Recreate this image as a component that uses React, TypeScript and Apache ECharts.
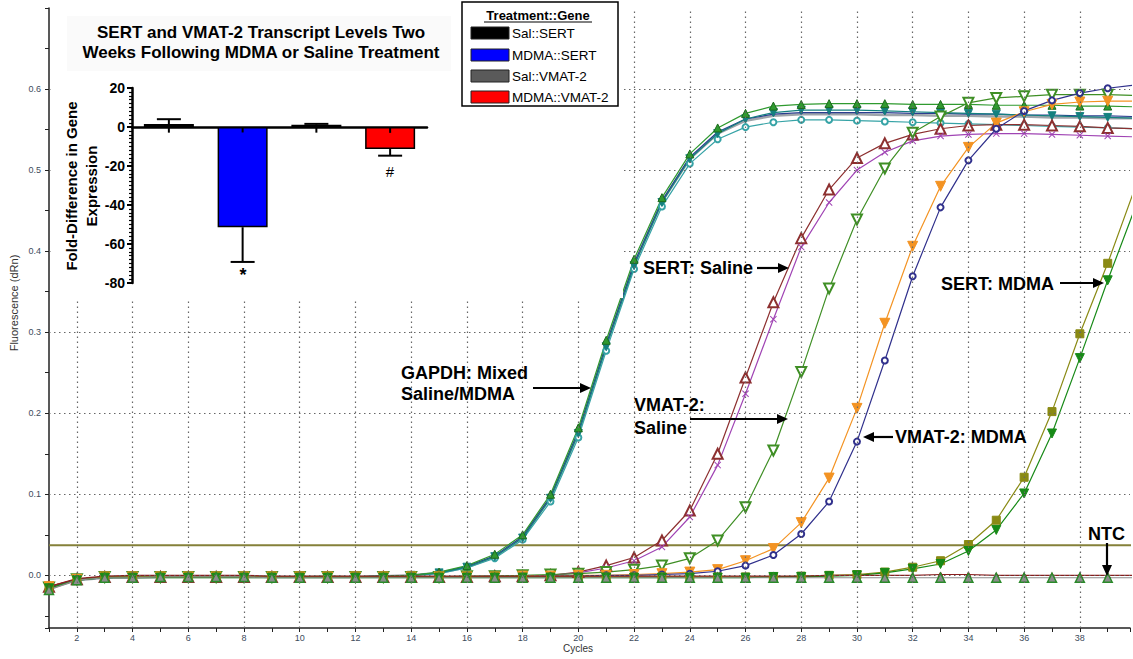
import React, { useEffect, useRef } from 'react';
import * as echarts from 'echarts';

const FF = '"Liberation Sans", Arial, sans-serif';

// ---------- main qPCR amplification plot ----------
const cycles = [1, 2, 3, 4, 5, 6, 7, 8, 9, 10, 11, 12, 13, 14, 15, 16, 17, 18, 19, 20, 21, 22, 23, 24, 25, 26, 27, 28, 29, 30, 31, 32, 33, 34, 35, 36, 37, 38, 39, 40];

const gapdhGreen = [-0.015, -0.005, -0.002, -0.002, -0.001, -0.002, -0.002, -0.001, -0.002, -0.002, -0.001, -0.002, -0.001, 0.0, 0.004, 0.012, 0.026, 0.05, 0.1, 0.182, 0.29, 0.39, 0.466, 0.52, 0.552, 0.57, 0.579, 0.581, 0.582, 0.582, 0.582, 0.581, 0.581, 0.581, 0.58, 0.58, 0.58, 0.579, 0.579, 0.578];
const gapdhTeal = [-0.016, -0.006, -0.003, -0.002, -0.002, -0.002, -0.002, -0.002, -0.002, -0.002, -0.002, -0.002, -0.001, 0.0, 0.003, 0.01, 0.023, 0.046, 0.095, 0.175, 0.282, 0.382, 0.46, 0.514, 0.545, 0.563, 0.571, 0.574, 0.574, 0.574, 0.573, 0.572, 0.571, 0.57, 0.569, 0.568, 0.567, 0.566, 0.565, 0.564];
const gapdhNavy = [-0.015, -0.005, -0.003, -0.002, -0.002, -0.002, -0.002, -0.002, -0.002, -0.002, -0.002, -0.002, -0.001, 0.0, 0.003, 0.011, 0.024, 0.048, 0.097, 0.178, 0.285, 0.385, 0.462, 0.516, 0.547, 0.563, 0.569, 0.571, 0.571, 0.571, 0.571, 0.57, 0.57, 0.569, 0.569, 0.568, 0.568, 0.567, 0.567, 0.566];
const gapdhGrey = [-0.016, -0.006, -0.003, -0.003, -0.002, -0.002, -0.002, -0.002, -0.002, -0.002, -0.002, -0.002, -0.001, 0.0, 0.003, 0.01, 0.023, 0.047, 0.096, 0.176, 0.284, 0.384, 0.461, 0.514, 0.545, 0.561, 0.567, 0.569, 0.569, 0.569, 0.568, 0.568, 0.567, 0.567, 0.566, 0.566, 0.565, 0.565, 0.564, 0.564];
const gapdhCircles = [-0.015, -0.005, -0.003, -0.002, -0.002, -0.002, -0.002, -0.002, -0.002, -0.002, -0.002, -0.002, -0.001, 0.0, 0.002, 0.009, 0.021, 0.044, 0.091, 0.17, 0.277, 0.378, 0.455, 0.508, 0.538, 0.553, 0.559, 0.562, 0.562, 0.561, 0.56, 0.559, 0.558, 0.557, 0.556, 0.555, 0.554, 0.553, 0.552, 0.551];

const sertSalineA = [-0.014, -0.005, -0.002, -0.002, -0.002, -0.002, -0.002, -0.002, -0.002, -0.002, -0.002, -0.002, -0.002, -0.002, -0.002, -0.002, -0.001, -0.001, 0.0, 0.004, 0.012, 0.022, 0.043, 0.08, 0.15, 0.244, 0.337, 0.416, 0.476, 0.515, 0.533, 0.544, 0.551, 0.555, 0.556, 0.556, 0.555, 0.554, 0.552, 0.551];
const sertSalineB = [-0.014, -0.005, -0.002, -0.002, -0.002, -0.002, -0.002, -0.002, -0.002, -0.002, -0.002, -0.002, -0.002, -0.002, -0.002, -0.002, -0.002, -0.001, 0.0, 0.003, 0.009, 0.018, 0.035, 0.072, 0.136, 0.224, 0.316, 0.405, 0.46, 0.5, 0.522, 0.536, 0.542, 0.544, 0.545, 0.545, 0.544, 0.543, 0.542, 0.541];
const vmatSaline = [-0.015, -0.005, -0.002, -0.002, -0.002, -0.002, -0.002, -0.002, -0.002, -0.002, -0.002, -0.002, -0.002, -0.002, -0.002, -0.001, -0.001, 0.0, 0.001, 0.002, 0.004, 0.007, 0.012, 0.021, 0.043, 0.084, 0.154, 0.251, 0.354, 0.439, 0.502, 0.546, 0.566, 0.583, 0.589, 0.591, 0.593, 0.593, 0.593, 0.592];
const vmatMdmaA = [-0.014, -0.005, -0.002, -0.002, -0.002, -0.002, -0.002, -0.002, -0.002, -0.002, -0.002, -0.002, -0.002, -0.002, -0.002, -0.002, -0.002, -0.001, -0.001, 0.0, 0.0, 0.001, 0.002, 0.004, 0.007, 0.018, 0.033, 0.065, 0.12, 0.206, 0.311, 0.406, 0.48, 0.528, 0.558, 0.572, 0.581, 0.584, 0.585, 0.585];
const vmatMdmaB = [-0.015, -0.005, -0.002, -0.002, -0.002, -0.002, -0.002, -0.002, -0.002, -0.002, -0.002, -0.002, -0.002, -0.002, -0.002, -0.002, -0.002, -0.002, -0.001, -0.001, 0.0, 0.0, 0.001, 0.002, 0.005, 0.012, 0.025, 0.051, 0.091, 0.165, 0.265, 0.369, 0.454, 0.512, 0.551, 0.573, 0.586, 0.595, 0.601, 0.605];
const sertMdmaA = [-0.016, -0.006, -0.002, -0.002, -0.002, -0.002, -0.002, -0.002, -0.002, -0.002, -0.002, -0.002, -0.002, -0.002, -0.002, -0.002, -0.002, -0.002, -0.002, -0.002, -0.002, -0.002, -0.002, -0.002, -0.002, -0.002, -0.002, -0.001, 0.0, 0.001, 0.004, 0.01, 0.018, 0.038, 0.068, 0.121, 0.202, 0.298, 0.385, 0.48];
const sertMdmaB = [-0.016, -0.006, -0.003, -0.003, -0.003, -0.003, -0.003, -0.003, -0.003, -0.003, -0.003, -0.003, -0.003, -0.003, -0.003, -0.003, -0.003, -0.003, -0.003, -0.003, -0.003, -0.003, -0.003, -0.003, -0.003, -0.003, -0.002, -0.002, -0.001, 0.0, 0.003, 0.008, 0.014, 0.03, 0.056, 0.101, 0.175, 0.268, 0.364, 0.455];
const ntcRed = [-0.014, -0.004, -0.001, 0.0, 0.0, 0.0, 0.0, 0.0, -0.001, -0.001, -0.001, -0.001, -0.001, -0.001, -0.001, -0.001, -0.001, -0.001, -0.001, -0.001, -0.001, -0.001, -0.001, -0.001, -0.001, -0.001, -0.001, -0.001, 0.0, 0.0, 0.0, 0.0, 0.001, 0.001, 0.0, 0.0, 0.0, 0.0, 0.0, 0.0];
const ntcGrey = [-0.018, -0.006, -0.003, -0.003, -0.002, -0.002, -0.002, -0.002, -0.003, -0.003, -0.003, -0.003, -0.003, -0.003, -0.003, -0.003, -0.003, -0.003, -0.003, -0.003, -0.003, -0.003, -0.003, -0.003, -0.003, -0.003, -0.003, -0.003, -0.003, -0.003, -0.003, -0.003, -0.003, -0.003, -0.003, -0.003, -0.003, -0.003, -0.003, -0.003];

const thresholdValue = 0.037;
const yGridValues = [0, 0.1, 0.2, 0.3, 0.4, 0.5, 0.6];
const xGridCycles = [2, 4, 6, 8, 10, 12, 14, 16, 18, 20, 22, 24, 26, 28, 30, 32, 34, 36, 38];

// ---------- inset bar chart ----------
const insetCategories = ['Sal::SERT', 'MDMA::SERT', 'Sal::VMAT-2', 'MDMA::VMAT-2'];
const insetValues = [1.5, -51.4, 1.2, -11.3];
const insetErrorEnds = [4.0, -69.2, 1.6, -14.7];
const insetStubEnds = [-2.9, -2.8, -2.9, -3.0];
const insetColors = ['#000000', '#0000ff', '#5a5a5a', '#ff0000'];
const insetTitle = ['SERT and VMAT-2 Transcript Levels Two', 'Weeks Following MDMA or Saline Treatment'];

const X_PATH = 'path://M1,0 L5,4 L9,0 L10,1 L6,5 L10,9 L9,10 L5,6 L1,10 L0,9 L4,5 L0,1 Z';

function curve(name: string, values: number[], color: string, symbol: string, size: number, extra: any = {}) {
  return {
    type: 'line',
    name,
    xAxisIndex: 0,
    yAxisIndex: 0,
    data: cycles.map((c, i) => [c, values[i]]),
    symbol,
    symbolSize: size,
    symbolRotate: extra.rotate || 0,
    showSymbol: symbol !== 'none',
    showAllSymbol: true,
    lineStyle: { color, width: extra.width || 1.2 },
    itemStyle: { color: extra.fill || color, borderColor: extra.border || color, borderWidth: extra.borderWidth ?? 1 },
    z: 2,
    silent: true,
    clip: true,
  };
}

function arrow(x1: number, y1: number, x2: number, y2: number) {
  const ang = Math.atan2(y2 - y1, x2 - x1);
  const L = 11, W = 5;
  const bx = x2 - L * Math.cos(ang), by = y2 - L * Math.sin(ang);
  const px = -Math.sin(ang) * W, py = Math.cos(ang) * W;
  return [
    { type: 'line', shape: { x1, y1, x2: bx, y2: by }, style: { stroke: '#000', lineWidth: 2.2 }, z: 20 },
    { type: 'polygon', shape: { points: [[x2, y2], [bx + px, by + py], [bx - px, by - py]] }, style: { fill: '#000' }, z: 20 },
  ];
}

function label(text: string, x: number, y: number, size = 18, align = 'left', weight = 'bold', color = '#000', rotation = 0) {
  return {
    type: 'text', x, y, rotation, z: 20,
    style: { text, fontSize: size, fontWeight: weight, fontFamily: FF, fill: color, align, verticalAlign: 'middle' },
  };
}

export default function App() {
  const ref = useRef<HTMLDivElement>(null);
  useEffect(() => {
    if (!ref.current) return;
    const chart = echarts.init(ref.current, undefined, { renderer: 'svg' });

    const legendY = [33, 55, 76, 97];
    const legendEls: any[] = [
      { type: 'rect', shape: { x: 462, y: 2, width: 156, height: 104 }, style: { fill: '#fff', stroke: '#000', lineWidth: 1.5 }, z: 15 },
      label('Treatment::Gene', 538, 15, 13, 'center'),
      { type: 'line', shape: { x1: 484, y1: 22, x2: 592, y2: 22 }, style: { stroke: '#000', lineWidth: 1 }, z: 20 },
    ];
    insetCategories.forEach((c, i) => {
      legendEls.push({ type: 'rect', shape: { x: 471, y: legendY[i] - 6, width: 38, height: 12 }, style: { fill: insetColors[i], stroke: '#222', lineWidth: 1 }, z: 20 });
      legendEls.push(label(c, 512, legendY[i], 13.5, 'left', 'normal'));
    });

    const option: any = {
      animation: false,
      backgroundColor: '#fff',
      textStyle: { fontFamily: FF },
      grid: [
        { left: 49, right: 0, top: 8, bottom: 31 },
        { left: 132, top: 88, width: 295, height: 195 },
      ],
      xAxis: [
        {
          type: 'value', gridIndex: 0, min: 1, max: 39.8, interval: 1,
          axisLine: { onZero: false, lineStyle: { color: '#222', width: 1.5 } },
          axisTick: { length: 4, lineStyle: { color: '#222' } },
          axisLabel: { formatter: (v: number) => (v % 2 === 0 && v <= 38 ? String(v) : ''), fontSize: 9, color: '#3d4b5c', margin: 5 },
          splitLine: { show: false },
        },
        {
          type: 'category', gridIndex: 1, data: insetCategories, z: 12,
          axisLine: { onZero: true, lineStyle: { color: '#000', width: 2.5 } },
          axisTick: { show: false }, axisLabel: { show: false }, splitLine: { show: false },
        },
      ],
      yAxis: [
        {
          type: 'value', gridIndex: 0, min: -0.065, max: 0.7, splitNumber: 15,
          axisLine: { show: true, onZero: false, lineStyle: { color: '#222', width: 1.5 } },
          axisTick: { show: true, length: 4, lineStyle: { color: '#222' } },
          axisLabel: {
            fontSize: 9, color: '#3d4b5c', margin: 8,
            formatter: (v: number) => {
              const t = v * 10;
              return v > -1e-9 && v < 0.65 && Math.abs(t - Math.round(t)) < 1e-6 ? (Math.round(t) / 10).toFixed(1) : '';
            },
          },
          splitLine: { show: false },
        },
        {
          type: 'value', gridIndex: 1, min: -80, max: 20, interval: 20, z: 12,
          axisLine: { show: true, onZero: false, lineStyle: { color: '#000', width: 2.5 } },
          axisTick: { show: true, length: 5, lineStyle: { color: '#000', width: 2 } },
          minorTick: { show: true, splitNumber: 10, length: 3, lineStyle: { color: '#000', width: 1.2 } },
          axisLabel: { fontSize: 14, fontWeight: 'bold', color: '#000', margin: 7 },
          splitLine: { show: false },
        },
      ],
      series: [
        {
          type: 'line', name: 'Threshold', xAxisIndex: 0, yAxisIndex: 0, z: 1, silent: true,
          data: cycles.map((c) => [c, thresholdValue]),
          symbol: 'none', lineStyle: { color: '#85813a', width: 2 },
          markLine: {
            silent: true, symbol: ['none', 'none'], label: { show: false },
            lineStyle: { color: '#666', type: [1.5, 3.5], width: 1.2 },
            data: [
              ...yGridValues.map((v) => ({ yAxis: v })),
              ...xGridCycles.map((c) => ({ xAxis: c })),
            ],
          },
        },
        curve('GAPDH grey', gapdhGrey, '#9ea4aa', 'none', 0, { width: 2.5 }),
        curve('GAPDH navy', gapdhNavy, '#2b3d8f', 'circle', 3),
        curve('GAPDH circles', gapdhCircles, '#36a3a6', 'emptyCircle', 6),
        curve('GAPDH teal', gapdhTeal, '#14807f', 'triangle', 8, { rotate: 180 }),
        curve('GAPDH green', gapdhGreen, '#2f9a2f', 'triangle', 8, { border: '#1d6b1d' }),
        curve('SERT Saline A', sertSalineA, '#8d3030', 'emptyTriangle', 10),
        curve('SERT Saline B', sertSalineB, '#a044b4', X_PATH, 7, { borderWidth: 0 }),
        curve('VMAT-2 Saline', vmatSaline, '#3f8f25', 'emptyTriangle', 10, { rotate: 180 }),
        curve('VMAT-2 MDMA A', vmatMdmaA, '#f39323', 'triangle', 10, { rotate: 180 }),
        curve('VMAT-2 MDMA B', vmatMdmaB, '#30308c', 'emptyCircle', 6),
        curve('SERT MDMA A', sertMdmaA, '#8a8a14', 'rect', 8),
        curve('SERT MDMA B', sertMdmaB, '#178a17', 'triangle', 9, { rotate: 180 }),
        curve('NTC red', ntcRed, '#8b1f1f', 'triangle', 5),
        curve('NTC', ntcGrey, '#8c8c8c', 'triangle', 9, { border: '#2a8a2a', borderWidth: 1.5, fill: '#8c8c8c' }),
        {
          type: 'bar', name: 'Fold difference', xAxisIndex: 1, yAxisIndex: 1, z: 12, silent: true,
          barWidth: 50,
          data: insetValues.map((v, i) => ({ value: v, itemStyle: { color: insetColors[i], borderColor: '#000', borderWidth: 1.5 } })),
        },
        {
          type: 'custom', name: 'SEM', xAxisIndex: 1, yAxisIndex: 1, z: 13, silent: true,
          encode: { x: 0, y: [1, 2, 3] },
          data: insetValues.map((v, i) => [i, v, insetErrorEnds[i], insetStubEnds[i]]),
          renderItem: (params: any, api: any) => {
            const i = api.value(0);
            const pm = api.coord([i, api.value(1)]);
            const pe = api.coord([i, api.value(2)]);
            const pz = api.coord([i, 0]);
            const ps = api.coord([i, api.value(3)]);
            const cap = 12;
            const st = { stroke: '#000', lineWidth: 2 };
            return {
              type: 'group',
              children: [
                { type: 'line', shape: { x1: pm[0], y1: pm[1], x2: pe[0], y2: pe[1] }, style: st },
                { type: 'line', shape: { x1: pe[0] - cap, y1: pe[1], x2: pe[0] + cap, y2: pe[1] }, style: st },
                { type: 'line', shape: { x1: pz[0], y1: pz[1], x2: ps[0], y2: ps[1] }, style: st },
              ],
            };
          },
        },
      ],
      graphic: {
        elements: [
          // white panel of the inset figure
          { type: 'rect', shape: { x: 52, y: 0, width: 571, height: 298 }, style: { fill: '#fff' }, z: 10 },
          { type: 'rect', shape: { x: 67, y: 16, width: 384, height: 55 }, style: { fill: '#fafafa' }, z: 10 },
          label(insetTitle[0], 261, 32, 17, 'center'),
          label(insetTitle[1], 261, 52, 17, 'center'),
          label('Fold-Difference in Gene', 71, 186, 15, 'center', 'bold', '#000', Math.PI / 2),
          label('Expression', 91, 186, 15, 'center', 'bold', '#000', Math.PI / 2),
          label('*', 243, 275, 18, 'center'),
          label('#', 390, 171, 15, 'center', 'normal'),
          ...legendEls,
          // main axis names
          label('Cycles', 578, 648, 10, 'center', 'normal', '#333'),
          label('Fluorescence (dRn)', 14, 303, 11, 'center', 'normal', '#333', Math.PI / 2),
          // annotations
          label('SERT: Saline', 643, 268),
          ...arrow(757, 268, 789, 268),
          label('GAPDH: Mixed', 401, 373),
          label('Saline/MDMA', 401, 394),
          ...arrow(533, 388, 591, 388),
          label('VMAT-2:', 634, 405),
          label('Saline', 634, 428),
          ...arrow(690, 419, 788, 419),
          label('VMAT-2: MDMA', 895, 437),
          ...arrow(893, 437, 863, 437),
          label('SERT: MDMA', 941, 284),
          ...arrow(1060, 283, 1104, 283),
          label('NTC', 1088, 534),
          ...arrow(1107, 543, 1107, 576),
        ],
      },
    };
    chart.setOption(option);
    return () => chart.dispose();
  }, []);

  return <div ref={ref} style={{ position: 'absolute', left: 0, top: 0, width: 1133, height: 659, background: '#fff' }} />;
}
